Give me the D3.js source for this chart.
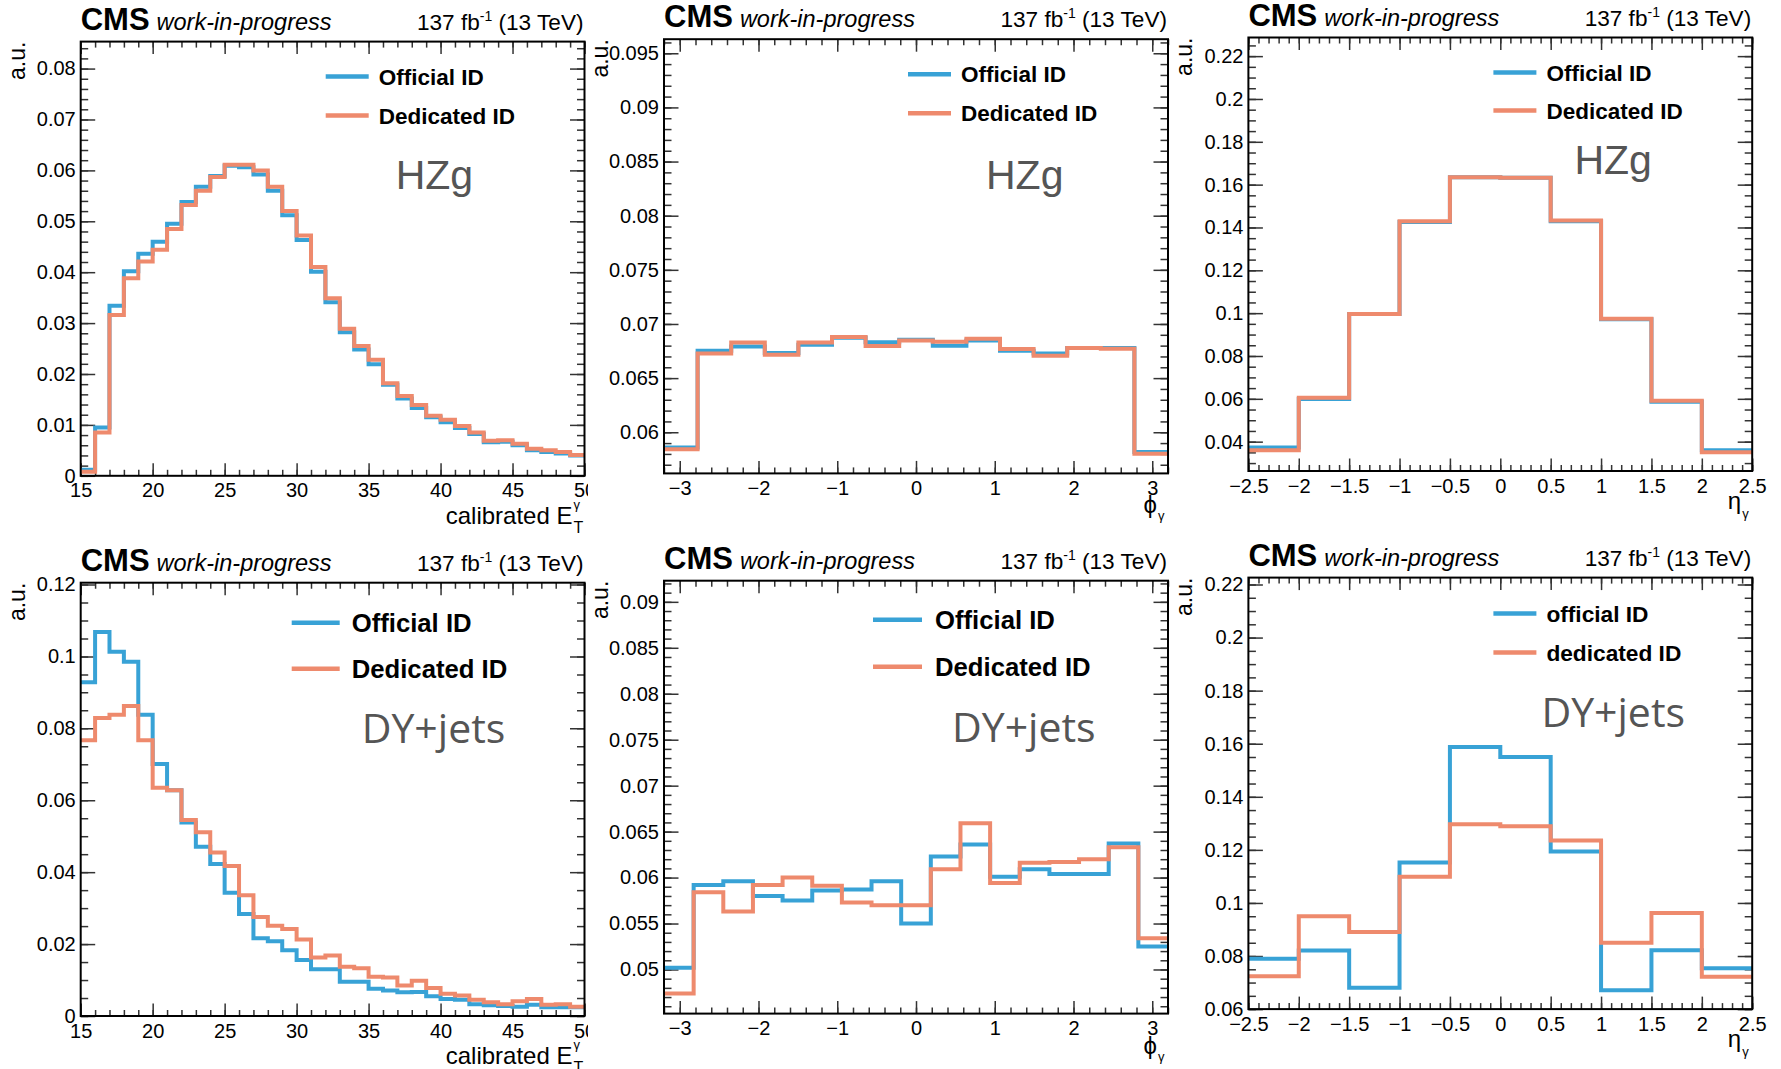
<!DOCTYPE html>
<html>
<head>
<meta charset="utf-8">
<script src="https://cdn.jsdelivr.net/npm/d3@7"></script>
<style>
  body { margin: 0; background: #fff; }
  text { font-family: "Liberation Sans", Arial, Helvetica, sans-serif; }
</style>
</head>
<body>
<svg id="chart" width="1781" height="1069"></svg>
<script>
// bin contents (normalised histograms)
// photon ET, 15-50 GeV, 1 GeV bins
var etHZgOfficial  = [0.0012, 0.0095, 0.0334, 0.0402, 0.0436, 0.0460, 0.0495, 0.0538, 0.0568, 0.0589, 0.0609, 0.0606, 0.0592, 0.0560, 0.0512, 0.0463, 0.0401, 0.0341, 0.0282, 0.0248, 0.0219, 0.0179, 0.0152, 0.0133, 0.0115, 0.0105, 0.0094, 0.0082, 0.0066, 0.0067, 0.0060, 0.0050, 0.0047, 0.0044, 0.0040];
var etHZgDedicated = [0.0008, 0.0085, 0.0316, 0.0388, 0.0421, 0.0444, 0.0485, 0.0532, 0.0560, 0.0587, 0.0611, 0.0611, 0.0600, 0.0568, 0.0520, 0.0472, 0.0410, 0.0349, 0.0289, 0.0255, 0.0228, 0.0182, 0.0157, 0.0139, 0.0118, 0.0110, 0.0098, 0.0085, 0.0069, 0.0070, 0.0063, 0.0053, 0.0050, 0.0047, 0.0041];
var etDYOfficial   = [0.0928, 0.1068, 0.1013, 0.0985, 0.0838, 0.0701, 0.0628, 0.0538, 0.0471, 0.0423, 0.0343, 0.0284, 0.0216, 0.0208, 0.0183, 0.0156, 0.0130, 0.0130, 0.0095, 0.0095, 0.0076, 0.0071, 0.0066, 0.0067, 0.0055, 0.0047, 0.0045, 0.0033, 0.0030, 0.0028, 0.0026, 0.0031, 0.0024, 0.0024, 0.0024];
var etDYDedicated  = [0.0767, 0.0829, 0.0838, 0.0862, 0.0767, 0.0635, 0.0628, 0.0545, 0.0511, 0.0455, 0.0417, 0.0336, 0.0275, 0.0251, 0.0242, 0.0213, 0.0163, 0.0168, 0.0137, 0.0133, 0.0109, 0.0107, 0.0085, 0.0098, 0.0078, 0.0062, 0.0057, 0.0045, 0.0038, 0.0033, 0.0041, 0.0047, 0.0031, 0.0033, 0.0026];

// photon phi, -3.2..3.2 (15 bins for HZg, 17 bins for DY)
var phiHZgOfficial  = [0.05859, 0.06753, 0.06791, 0.06731, 0.06807, 0.06873, 0.06832, 0.06854, 0.06800, 0.06848, 0.06753, 0.06728, 0.06778, 0.06778, 0.05818];
var phiHZgDedicated = [0.05843, 0.06728, 0.06829, 0.06716, 0.06829, 0.06879, 0.06797, 0.06848, 0.06835, 0.06863, 0.06769, 0.06706, 0.06778, 0.06772, 0.05802];
var phiDYOfficial   = [0.0502, 0.0592, 0.0596, 0.0580, 0.0575, 0.0586, 0.0587, 0.0596, 0.0550, 0.0623, 0.0636, 0.0601, 0.0609, 0.0604, 0.0604, 0.0637, 0.0525];
var phiDYDedicated  = [0.0474, 0.0584, 0.0563, 0.0592, 0.0600, 0.0591, 0.0573, 0.0570, 0.0570, 0.0609, 0.0659, 0.0594, 0.0616, 0.0617, 0.0620, 0.0633, 0.0534];

// photon eta, -2.5..2.5, 0.5 bins
var etaHZgOfficial  = [0.0373, 0.0599, 0.0996, 0.1425, 0.1635, 0.1632, 0.1429, 0.0971, 0.0586, 0.0360];
var etaHZgDedicated = [0.0360, 0.0605, 0.0996, 0.1429, 0.1635, 0.1632, 0.1432, 0.0974, 0.0591, 0.0351];
var etaDYOfficial   = [0.0790, 0.0821, 0.0680, 0.1152, 0.1588, 0.1550, 0.1194, 0.0671, 0.0822, 0.0754];
var etaDYDedicated  = [0.0724, 0.0950, 0.0891, 0.1099, 0.1297, 0.1289, 0.1235, 0.0850, 0.0962, 0.0722];

var legendUpper = ["Official ID", "Dedicated ID"],
    legendLower = ["official ID", "dedicated ID"];

var blue = "#38a2d6", orange = "#ee8a6d", tickColor = "#333";

// layout of the six pads (pixel boxes of the frames)
var panels = [
  {box: [80.7, 41.6, 584.5, 475.8], xDom: [15, 50], yDom: [0, 0.0853], xStep: [5, 1], yStep: [0.01, 0.002],
   off: etHZgOfficial, ded: etHZgDedicated, names: legendUpper, kind: "et", tag: "HZg",
   leg: {x: 245, len: 43, tx: 298, y1: 35, y2: 74, fs: 22.5}, tagPos: [315, 147], clipRight: 588},
  {box: [664, 39.2, 1168, 473.4], xDom: [-3.2, 3.2], yDom: [0.0562, 0.0963], xStep: [1, 0.2], yStep: [0.005, 0.001],
   off: phiHZgOfficial, ded: phiHZgDedicated, names: legendUpper, kind: "phi", tag: "HZg",
   leg: {x: 244, len: 43, tx: 297, y1: 35, y2: 74, fs: 22.5}, tagPos: [322, 150]},
  {box: [1248.4, 37.5, 1752.2, 471], xDom: [-2.5, 2.5], yDom: [0.0263, 0.2287], xStep: [0.5, 0.1], yStep: [0.02, 0.005],
   off: etaHZgOfficial, ded: etaHZgDedicated, names: legendUpper, kind: "eta", tag: "HZg",
   leg: {x: 245, len: 43, tx: 298, y1: 35, y2: 73, fs: 22.5}, tagPos: [326, 136]},
  {box: [80.7, 582.7, 584.5, 1016], xDom: [15, 50], yDom: [0, 0.1205], xStep: [5, 1], yStep: [0.02, 0.005],
   off: etDYOfficial, ded: etDYDedicated, names: legendUpper, kind: "et", tag: "DY+jets",
   leg: {x: 211, len: 48, tx: 271, y1: 40, y2: 86, fs: 25.7}, tagPos: [281, 160], clipRight: 588},
  {box: [664, 580.7, 1168, 1013.6], xDom: [-3.2, 3.2], yDom: [0.0452, 0.0923], xStep: [1, 0.2], yStep: [0.005, 0.001],
   off: phiDYOfficial, ded: phiDYDedicated, names: legendUpper, kind: "phi", tag: "DY+jets",
   leg: {x: 209, len: 49, tx: 271, y1: 39, y2: 86, fs: 25.7}, tagPos: [288, 161]},
  {box: [1248.4, 577.6, 1752.2, 1009.1], xDom: [-2.5, 2.5], yDom: [0.06, 0.2226], xStep: [0.5, 0.1], yStep: [0.02, 0.005],
   off: etaDYOfficial, ded: etaDYDedicated, names: legendLower, kind: "eta", tag: "DY+jets",
   leg: {x: 245, len: 43, tx: 298, y1: 36, y2: 75, fs: 22.7}, tagPos: [293, 149]}
];

var svg = d3.select("#chart");
var defs = svg.append("defs");

function tickValues(dom, step) {
  var k0 = Math.ceil(dom[0] / step - 1e-6), k1 = Math.floor(dom[1] / step + 1e-6);
  return d3.range(k0, k1 + 1).map(function(k) { return +(k * step).toFixed(6); });
}

function fmt(v) {
  return String(+v.toFixed(6)).replace("-", "\u2212");
}

function styleAxis(sel, fs) {
  sel.select(".domain").remove();
  sel.selectAll(".tick line").attr("stroke", tickColor).attr("stroke-width", 1.5);
  sel.selectAll(".tick text").attr("fill", "#000").style("font-size", fs + "px")
      .style("font-family", '"Liberation Sans", Arial, sans-serif');
}

panels.forEach(function(p, idx) {
  var left = p.box[0], top = p.box[1], right = p.box[2], bottom = p.box[3];
  var g = svg.append("g");
  if (p.clipRight) {
    defs.append("clipPath").attr("id", "clip" + idx)
      .append("rect").attr("x", left - 90).attr("y", top - 45)
      .attr("width", p.clipRight - left + 90).attr("height", bottom - top + 110);
    g.attr("clip-path", "url(#clip" + idx + ")");
  }

  var x = d3.scaleLinear().domain(p.xDom).range([left, right]);
  var y = d3.scaleLinear().domain(p.yDom).range([bottom, top]);

  var xMaj = tickValues(p.xDom, p.xStep[0]), xMin = tickValues(p.xDom, p.xStep[1]);
  var yMaj = tickValues(p.yDom, p.yStep[0]), yMin = tickValues(p.yDom, p.yStep[1]);

  // minor ticks on all four sides
  g.append("g").attr("transform", "translate(0," + bottom + ")")
    .call(d3.axisBottom(x).tickValues(xMin).tickSize(-6).tickFormat("")).call(styleAxis, 20);
  g.append("g").attr("transform", "translate(0," + top + ")")
    .call(d3.axisTop(x).tickValues(xMin).tickSize(-6).tickFormat("")).call(styleAxis, 20);
  g.append("g").attr("transform", "translate(" + left + ",0)")
    .call(d3.axisLeft(y).tickValues(yMin).tickSize(-7.5).tickFormat("")).call(styleAxis, 20);
  g.append("g").attr("transform", "translate(" + right + ",0)")
    .call(d3.axisRight(y).tickValues(yMin).tickSize(-7.5).tickFormat("")).call(styleAxis, 20);

  // major ticks + labels
  g.append("g").attr("transform", "translate(0," + bottom + ")")
    .call(d3.axisBottom(x).tickValues(xMaj).tickSize(-12.5).tickPadding(7.5).tickFormat(fmt)).call(styleAxis, 20);
  g.append("g").attr("transform", "translate(0," + top + ")")
    .call(d3.axisTop(x).tickValues(xMaj).tickSize(-12.5).tickFormat("")).call(styleAxis, 20);
  g.append("g").attr("transform", "translate(" + left + ",0)")
    .call(d3.axisLeft(y).tickValues(yMaj).tickSize(-14.5).tickPadding(5).tickFormat(fmt)).call(styleAxis, 20);
  g.append("g").attr("transform", "translate(" + right + ",0)")
    .call(d3.axisRight(y).tickValues(yMaj).tickSize(-14.5).tickFormat("")).call(styleAxis, 20);

  // histograms as step outlines
  function stepLine(vals) {
    var n = vals.length;
    var pts = vals.map(function(v, i) { return [p.xDom[0] + i * (p.xDom[1] - p.xDom[0]) / n, v]; });
    pts.push([p.xDom[1], vals[n - 1]]);
    return d3.line().curve(d3.curveStepAfter)
      .x(function(d) { return x(d[0]); })
      .y(function(d) { return y(d[1]); })(pts);
  }
  g.append("path").attr("d", stepLine(p.off)).attr("fill", "none")
    .attr("stroke", blue).attr("stroke-width", 4);
  g.append("path").attr("d", stepLine(p.ded)).attr("fill", "none")
    .attr("stroke", orange).attr("stroke-width", 4);

  // frame
  g.append("rect").attr("x", left).attr("y", top)
    .attr("width", right - left).attr("height", bottom - top)
    .attr("fill", "none").attr("stroke", "#000").attr("stroke-width", 2);

  // legend
  var leg = p.leg;
  [[leg.y1, blue, p.names[0]], [leg.y2, orange, p.names[1]]].forEach(function(e) {
    g.append("line").attr("x1", left + leg.x).attr("x2", left + leg.x + leg.len)
      .attr("y1", top + e[0]).attr("y2", top + e[0])
      .attr("stroke", e[1]).attr("stroke-width", 4.5);
    g.append("text").attr("x", left + leg.tx).attr("y", top + e[0]).attr("dy", "0.36em")
      .style("font-size", leg.fs + "px").style("font-weight", "bold").text(e[2]);
  });

  // process tag
  g.append("text").attr("x", left + p.tagPos[0]).attr("y", top + p.tagPos[1])
    .attr("fill", "#555")
    .style("font-size", p.tag === "HZg" ? "41px" : "41px")
    .style("font-family", p.tag === "HZg" ? '"Liberation Sans", Arial, sans-serif' : '"Open Sans", Lato, sans-serif')
    .text(p.tag);

  // header
  var head = g.append("text").attr("x", left).attr("y", top - 12);
  head.append("tspan").style("font-size", "31px").style("font-weight", "bold").text("CMS");
  head.append("tspan").attr("dx", 7).style("font-size", "23.5px").style("font-style", "italic").text("work-in-progress");

  var lumi = g.append("text").attr("x", right - 1).attr("y", top - 12)
    .attr("text-anchor", "end").style("font-size", "22.6px");
  lumi.append("tspan").text("137 fb");
  lumi.append("tspan").attr("dy", -9).style("font-size", "14px").text("-1");
  lumi.append("tspan").attr("dy", 9).text(" (13 TeV)");

  // y title
  g.append("text").attr("transform", "translate(" + (left - 56) + "," + top + ") rotate(-90)")
    .attr("text-anchor", "end").style("font-size", "23px").text("a.u.");

  // x title
  if (p.kind === "et") {
    g.append("text").attr("x", right - 12).attr("y", bottom + 48).attr("text-anchor", "end")
      .style("font-size", "24px").text("calibrated E");
    g.append("text").attr("x", right - 11).attr("y", bottom + 33).style("font-size", "13px").text("\u03b3");
    g.append("text").attr("x", right - 11).attr("y", bottom + 57).style("font-size", "16px").text("T");
  } else {
    g.append("text").attr("x", right - 11).attr("y", bottom + (p.kind === "phi" ? 40 : 38))
      .attr("text-anchor", "end").style("font-size", "24px")
      .text(p.kind === "phi" ? "\u03d5" : "\u03b7");
    g.append("text").attr("x", right - 10).attr("y", bottom + 47).style("font-size", "13px").text("\u03b3");
  }
});
</script>
</body>
</html>
